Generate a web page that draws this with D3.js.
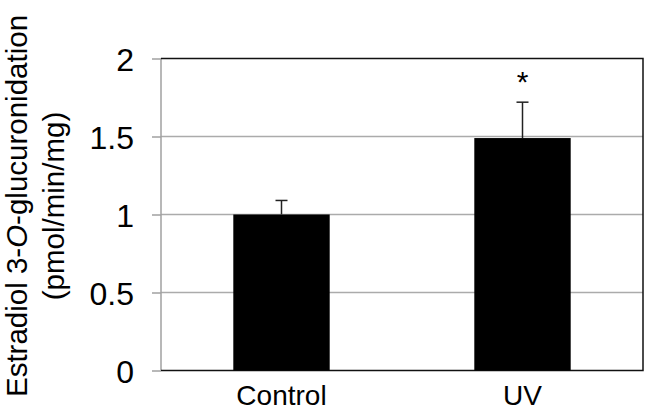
<!DOCTYPE html>
<html>
<head>
<meta charset="utf-8">
<script src="https://cdn.jsdelivr.net/npm/d3@7"></script>
<style>
  body { margin: 0; background: #fff; }
  svg { display: block; font-family: "Liberation Sans", Arial, Helvetica, sans-serif; }
</style>
</head>
<body>
<svg id="chart"></svg>
<script>
// chart data
const categories = ["Control", "UV"];
const means = [1.0, 1.49];
const errors = [0.09, 0.23];
const marks = ["", "*"];
const yTicks = [0, 0.5, 1, 1.5, 2];
const yTickLabels = ["0", "0.5", "1", "1.5", "2"];

const width = 647;
const height = 413;
const marginTop = 58.5;
const marginRight = 4;
const marginBottom = 42.5;
const marginLeft = 161;

const svg = d3.select("#chart")
    .attr("width", width)
    .attr("height", height)
    .attr("viewBox", [0, 0, width, height]);

const x = d3.scaleBand()
    .domain(categories)
    .range([marginLeft, width - marginRight])
    .paddingInner(0.6)
    .paddingOuter(0.3);

const y = d3.scaleLinear()
    .domain([0, 2])
    .range([height - marginBottom, marginTop]);

const rows = categories.map((c, i) => ({ name: c, mean: means[i], err: errors[i], mark: marks[i] }));

// gridlines
svg.append("g")
    .selectAll("line")
    .data(yTicks.filter(t => t > 0 && t < 2))
    .enter()
    .append("line")
    .attr("x1", marginLeft)
    .attr("x2", width - marginRight)
    .attr("y1", d => y(d))
    .attr("y2", d => y(d))
    .attr("stroke", "#ababab")
    .attr("stroke-width", 1.5);

// y axis (gray line + ticks)
const yAxis = svg.append("g")
    .attr("transform", `translate(${marginLeft},0)`)
    .call(d3.axisLeft(y).tickValues(yTicks).tickSize(9).tickPadding(18)
        .tickFormat((d, i) => yTickLabels[i]));
yAxis.select(".domain").remove();
yAxis.append("line")
    .attr("y1", y(0))
    .attr("y2", y(2))
    .attr("stroke", "#a0a0a0")
    .attr("stroke-width", 1.5);
yAxis.selectAll(".tick line").attr("stroke", "#a0a0a0").attr("stroke-width", 1.5);
yAxis.selectAll(".tick text")
    .attr("fill", "#000")
    .attr("font-size", 32)
    .attr("font-family", "\"Liberation Sans\", Arial, sans-serif")
    .attr("dy", "0.36em");

// frame: top, right, bottom in black
svg.append("path")
    .attr("d", `M${marginLeft},${y(2)}H${width - marginRight}V${y(0)}H${marginLeft}`)
    .attr("fill", "none")
    .attr("stroke", "#111")
    .attr("stroke-width", 1.5);

// bars
svg.append("g")
    .selectAll("rect")
    .data(rows)
    .enter()
    .append("rect")
    .attr("x", d => x(d.name))
    .attr("width", x.bandwidth())
    .attr("y", d => y(d.mean))
    .attr("height", d => y(0) - y(d.mean))
    .attr("fill", "#000");

// error bars (upper only)
const eb = svg.append("g")
    .attr("stroke", "#222")
    .attr("stroke-width", 1.5);
eb.selectAll("line.v")
    .data(rows)
    .enter()
    .append("line")
    .attr("class", "v")
    .attr("x1", d => x(d.name) + x.bandwidth() / 2)
    .attr("x2", d => x(d.name) + x.bandwidth() / 2)
    .attr("y1", d => y(d.mean))
    .attr("y2", d => y(d.mean + d.err));
eb.selectAll("line.cap")
    .data(rows)
    .enter()
    .append("line")
    .attr("class", "cap")
    .attr("x1", d => x(d.name) + x.bandwidth() / 2 - 6)
    .attr("x2", d => x(d.name) + x.bandwidth() / 2 + 6)
    .attr("y1", d => y(d.mean + d.err))
    .attr("y2", d => y(d.mean + d.err));

// significance mark
svg.append("g")
    .selectAll("text")
    .data(rows.filter(d => d.mark))
    .enter()
    .append("text")
    .attr("x", d => x(d.name) + x.bandwidth() / 2)
    .attr("y", d => y(d.mean + d.err) - 10)
    .attr("text-anchor", "middle")
    .attr("font-size", 30)
    .text(d => d.mark);

// category labels
svg.append("g")
    .selectAll("text")
    .data(rows)
    .enter()
    .append("text")
    .attr("x", d => x(d.name) + x.bandwidth() / 2)
    .attr("y", 405)
    .attr("text-anchor", "middle")
    .attr("font-size", 28)
    .text(d => d.name);

// y axis title
const title = svg.append("text")
    .attr("transform", "translate(27,206) rotate(-90)")
    .attr("text-anchor", "middle")
    .attr("font-size", 29.5);
title.append("tspan").text("Estradiol 3-");
title.append("tspan").attr("font-style", "italic").text("O");
title.append("tspan").text("-glucuronidation");

svg.append("text")
    .attr("transform", "translate(64,206) rotate(-90)")
    .attr("text-anchor", "middle")
    .attr("font-size", 29.5)
    .text("(pmol/min/mg)");
</script>
</body>
</html>
